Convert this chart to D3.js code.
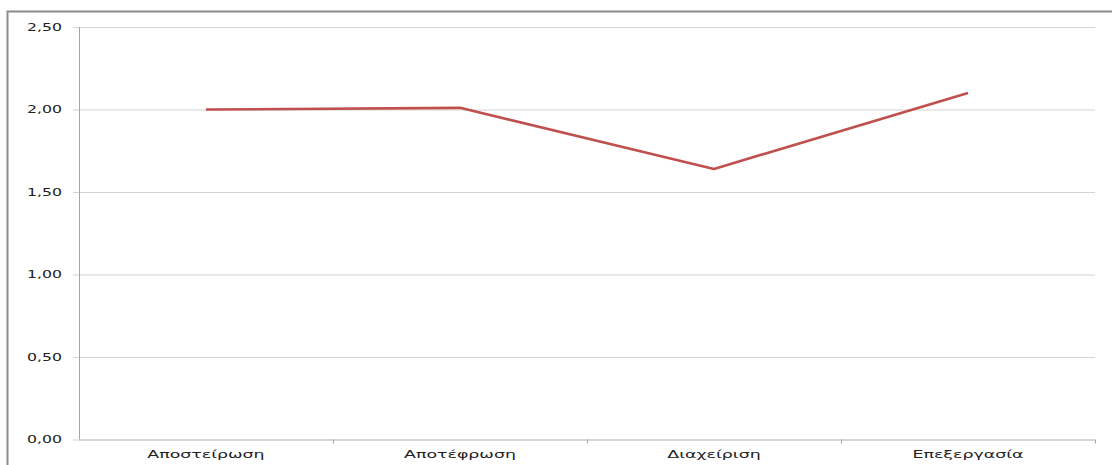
<!DOCTYPE html>
<html>
<head>
<meta charset="utf-8">
<script src="https://cdn.jsdelivr.net/npm/d3@7"></script>
<style>
  html, body { margin: 0; padding: 0; background: #fff; }
  svg { display: block; }
  text { font-family: "DejaVu Sans", Verdana, sans-serif; fill: #222; }
</style>
</head>
<body>
<script>
// Categories and average score per category
const categories = ["Αποστείρωση", "Αποτέφρωση", "Διαχείριση", "Επεξεργασία"];
const values = [2.00, 2.01, 1.64, 2.10];
const yTicks = [0, 0.5, 1.0, 1.5, 2.0, 2.5];

const W = 1112, H = 465;
const plot = { left: 79, right: 1095, top: 27, bottom: 439.5 };

const svg = d3.select("body").append("svg").attr("width", W).attr("height", H);

// Outer frame of the chart area
svg.append("rect")
  .attr("x", 7.5).attr("y", 11.5)
  .attr("width", W + 20).attr("height", H + 20)
  .attr("fill", "none").attr("stroke", "#8c8c8c").attr("stroke-width", 2);

const x = d3.scaleBand().domain(categories).range([plot.left, plot.right]);
const y = d3.scaleLinear().domain([0, 2.5]).range([plot.bottom, plot.top]);

const fmt = v => d3.format(".2f")(v).replace(".", ",");

// Horizontal gridlines with outward ticks
const yAxis = d3.axisLeft(y).tickValues(yTicks).tickFormat(fmt)
  .tickSize(-(plot.right - plot.left)).tickSizeOuter(0).tickPadding(0);
const gy = svg.append("g").attr("transform", `translate(${plot.left},0)`).call(yAxis);
gy.select(".domain").remove();
gy.selectAll(".tick line")
  .attr("x1", -6)
  .attr("stroke", "#d4d4d4").attr("stroke-width", 1.2);
gy.selectAll(".tick text").remove();

// Y tick labels (wide lettering)
svg.append("g").selectAll("text").data(yTicks).join("text")
  .attr("transform", d => `translate(62,${y(d)}) scale(1.43,1)`)
  .attr("text-anchor", "end").attr("dy", "0.36em")
  .attr("font-size", 11)
  .text(fmt);

// Vertical axis line
svg.append("line")
  .attr("x1", plot.left + 0.5).attr("x2", plot.left + 0.5)
  .attr("y1", plot.top).attr("y2", plot.bottom)
  .attr("stroke", "#a6a6a6").attr("stroke-width", 1);

// Category axis with boundary tick marks
const bounds = categories.map(c => x(c)).concat([x(categories[categories.length - 1]) + x.bandwidth()]);
svg.append("line")
  .attr("x1", plot.left).attr("x2", plot.right)
  .attr("y1", plot.bottom + 0.5).attr("y2", plot.bottom + 0.5)
  .attr("stroke", "#c4c4c4").attr("stroke-width", 1.2);
svg.append("g").selectAll("line").data(bounds.slice(1)).join("line")
  .attr("x1", d => d + 0.5).attr("x2", d => d + 0.5)
  .attr("y1", plot.bottom).attr("y2", plot.bottom + 4)
  .attr("stroke", "#a6a6a6").attr("stroke-width", 1);

// Category labels
svg.append("g").selectAll("text").data(categories).join("text")
  .attr("transform", d => `translate(${x(d) + x.bandwidth() / 2},458) scale(1.58,1)`)
  .attr("text-anchor", "middle")
  .attr("font-size", 11)
  .text(d => d);

// Series line
const line = d3.line()
  .x((d, i) => x(categories[i]) + x.bandwidth() / 2)
  .y(d => y(d));
svg.append("path")
  .datum(values)
  .attr("d", line)
  .attr("fill", "none")
  .attr("stroke", "#c0504d")
  .attr("stroke-width", 2.6)
  .attr("stroke-linejoin", "round");
</script>
</body>
</html>
